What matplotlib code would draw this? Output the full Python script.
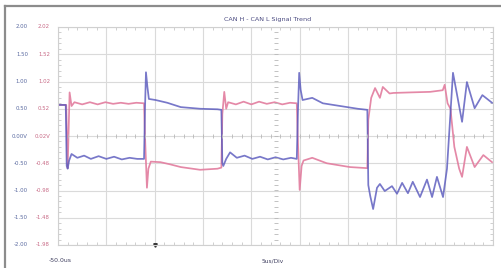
import matplotlib
matplotlib.use('Agg')
import matplotlib.pyplot as plt
from matplotlib.lines import Line2D
from matplotlib.ticker import MultipleLocator
import numpy as np

# time in us from the left edge of the screen (9 div x 5 us)
blue_t = [0.0, 0.8, 0.9, 1.0, 1.15, 1.4, 2.0, 2.7, 3.4, 4.2, 5.0, 5.8, 6.6, 7.4, 8.2, 8.9,
          9.0, 9.1, 9.25, 9.4, 10.1, 11.3, 12.7, 14.7, 16.5, 16.9,
          17.0, 17.1, 17.4, 17.8, 18.5, 19.3, 20.1, 20.9, 21.7, 22.5, 23.3, 24.1, 24.7,
          24.83, 24.95, 25.1, 25.3, 26.3, 27.4, 29.2, 31.0, 32.0,
          32.1, 32.3, 32.6, 33.0, 33.3, 33.8, 34.55, 35.07, 35.6, 36.2, 36.7, 37.45,
          38.17, 38.7, 39.2, 39.83, 40.24, 40.86, 41.8, 42.3, 43.1, 43.9, 44.9]
blue_v = [0.57, 0.57, -0.55, -0.60, -0.45, -0.33, -0.40, -0.36, -0.42, -0.37, -0.42, -0.38, -0.43, -0.40, -0.42, -0.42,
          0.50, 1.17, 0.90, 0.68, 0.66, 0.61, 0.53, 0.50, 0.49, 0.48,
          -0.50, -0.55, -0.42, -0.30, -0.40, -0.36, -0.42, -0.38, -0.43, -0.39, -0.43, -0.40, -0.42,
          0.50, 1.16, 0.85, 0.66, 0.70, 0.60, 0.55, 0.50, 0.48,
          -0.90, -1.10, -1.34, -0.95, -0.88, -1.01, -0.92, -1.06, -0.86, -1.05, -0.84, -1.12,
          -0.80, -1.12, -0.75, -1.12, -0.60, 1.16, 0.26, 0.99, 0.51, 0.75, 0.61]

pink_t = [0.0, 0.85, 1.0, 1.2, 1.4, 1.7, 2.5, 3.3, 4.1, 4.9, 5.7, 6.5, 7.3, 8.1, 8.9,
          9.0, 9.2, 9.35, 9.6, 10.6, 11.6, 12.7, 14.7, 16.5, 16.9,
          17.0, 17.2, 17.4, 17.6, 18.4, 19.2, 20.0, 20.8, 21.6, 22.4, 23.2, 24.0, 24.7,
          24.8, 25.0, 25.2, 25.4, 26.3, 27.8, 30.2, 32.0,
          32.1, 32.4, 32.8, 33.3, 33.6, 34.3, 34.7, 36.5, 38.5, 39.8,
          40.0, 40.3, 40.6, 41.0, 41.5, 41.8, 42.3, 43.1, 44.0, 44.9]
pink_v = [0.57, 0.57, -0.59, 0.80, 0.55, 0.62, 0.58, 0.62, 0.58, 0.62, 0.59, 0.61, 0.59, 0.61, 0.60,
          0.0, -0.95, -0.60, -0.47, -0.48, -0.52, -0.57, -0.62, -0.60, -0.58,
          0.40, 0.81, 0.50, 0.62, 0.58, 0.63, 0.58, 0.63, 0.59, 0.62, 0.58, 0.61, 0.60,
          0.0, -0.99, -0.55, -0.45, -0.40, -0.50, -0.57, -0.59,
          0.30, 0.70, 0.88, 0.70, 0.90, 0.78, 0.79, 0.80, 0.81, 0.84,
          0.94, 0.60, 0.50, -0.20, -0.60, -0.75, -0.20, -0.57, -0.35, -0.48]

blue_ticks = [2.00, 1.50, 1.00, 0.50, 0.00, -0.50, -1.00, -1.50, -2.00]
blue_labels = ['2.00', '1.50', '1.00', '0.50', '0.00V', '-0.50', '-1.00', '-1.50', '-2.00']
pink_labels = ['2.02', '1.52', '1.02', '0.52', '0.02V', '-0.48', '-0.98', '-1.48', '-1.98']

BLUE = '#5656bc'
PINK = '#e27c9e'
W, H = 501, 268

fig = plt.figure(figsize=(W / 100, H / 100), dpi=100)
ax = fig.add_axes([58 / W, 1 - 245 / H, (493 - 58) / W, (245 - 27) / H])

ax.plot(pink_t, pink_v, color=PINK, lw=1.25, alpha=0.9, solid_joinstyle='round')
ax.plot(blue_t, blue_v, color=BLUE, lw=1.25, alpha=0.8, solid_joinstyle='round')

ax.set_xlim(0, 45)
ax.set_ylim(-2, 2)
ax.set_xticks(np.arange(0, 46, 5))
ax.set_yticks(blue_ticks)
ax.set_xticklabels([])
ax.set_yticklabels([])
ax.tick_params(which='major', length=0)
ax.xaxis.set_minor_locator(MultipleLocator(1))
ax.yaxis.set_minor_locator(MultipleLocator(0.1))
ax.tick_params(which='minor', direction='in', length=2, width=0.6, color='#c8c8c8',
               top=True, right=True)
ax.grid(True, which='major', color='#dadada', lw=0.8)
for s in ax.spines.values():
    s.set_color('#d0d0d0')
    s.set_linewidth(0.8)

# center crosshair ticks
cx = np.arange(0, 45.01, 1)
ax.plot(cx, np.zeros_like(cx), ls='none', marker='|', ms=3, mew=0.6, color='#b8b8b8')
cy = np.arange(-2, 2.01, 0.1)
ax.plot(np.full_like(cy, 22.5), cy, ls='none', marker='_', ms=3, mew=0.6, color='#b8b8b8')

tr = ax.get_yaxis_transform()
for v, lb, lp in zip(blue_ticks, blue_labels, pink_labels):
    ax.text(-30 / 435, v, lb, transform=tr, ha='right', va='center', fontsize=3.9, color='#5a6aa0')
    ax.text(-8 / 435, v, lp, transform=tr, ha='right', va='center', fontsize=3.9, color='#c86a86')

# trigger marker
ax.plot([10.0], [-2.0], marker='v', ms=2.5, color='#303030', clip_on=False)

fig.text(60 / W, 1 - 261 / H, '-50.0us', ha='center', va='center', fontsize=4.4, color='#404060')
fig.text(273 / W, 1 - 261 / H, '5us/Div', ha='center', va='center', fontsize=4.2, color='#404060')
fig.text(268 / W, 1 - 19 / H, 'CAN H - CAN L Signal Trend', ha='center', va='center',
         fontsize=4.6, color='#4a4a80')

# outer gray frame
fig.add_artist(Line2D([5 / W, 5 / W], [0, 1 - 6 / H], color='#8c8c8c', lw=1.6,
                      transform=fig.transFigure))
fig.add_artist(Line2D([5 / W, 1], [1 - 6 / H, 1 - 6 / H], color='#8c8c8c', lw=1.6,
                      transform=fig.transFigure))

fig.savefig('out.png', dpi=100)
